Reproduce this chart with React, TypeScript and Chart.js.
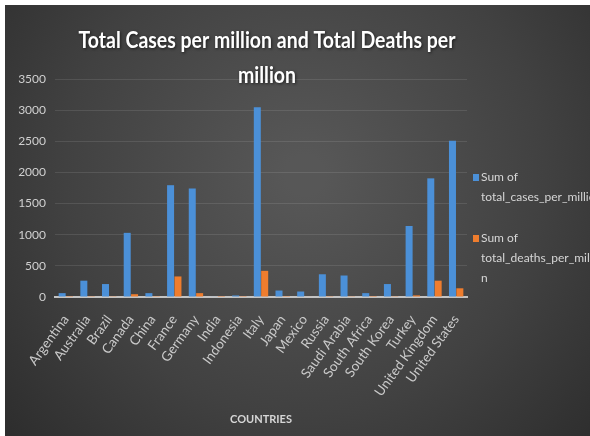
import { useEffect, useRef } from 'react';
import { Chart, registerables } from 'chart.js';

Chart.register(...registerables);

const countries = [
  'Argentina', 'Australia', 'Brazil', 'Canada', 'China', 'France', 'Germany', 'India', 'Indonesia',
  'Italy', 'Japan', 'Mexico', 'Russia', 'Saudi Arabia', 'South Africa', 'South Korea', 'Turkey',
  'United Kingdom', 'United States',
];

const totalCasesPerMillion = [62, 262, 208, 1030, 62, 1795, 1742, 7, 25, 3045, 104, 88, 365, 345, 62, 208, 1140, 1905, 2510];
const totalDeathsPerMillion = [2, 3, 12, 45, 3, 330, 62, 1, 2, 420, 2, 9, 3, 4, 1, 4, 26, 262, 140];

const yTicks = [0, 500, 1000, 1500, 2000, 2500, 3000, 3500];
const titleLines = ['Total Cases per million and Total Deaths per', 'million'];
const legendLines = [
  ['Sum of', 'total_cases_per_million'],
  ['Sum of', 'total_deaths_per_millio', 'n'],
];
const xAxisTitle = 'COUNTRIES';

const FONT = 'Lato, "Open Sans", sans-serif';
const BLUE = '#4b90d8';
const ORANGE = '#ef7d2e';

export default function App() {
  const ref = useRef<HTMLCanvasElement | null>(null);

  useEffect(() => {
    document.body.style.margin = '0';
    const canvas = ref.current;
    if (!canvas) return;

    const bgPlugin = {
      id: 'bg',
      beforeDraw(chart: any) {
        const { ctx, width, height } = chart;
        ctx.save();
        const g = ctx.createRadialGradient(300, 170, 20, 300, 170, 420);
        g.addColorStop(0, '#575757');
        g.addColorStop(0.55, '#414141');
        g.addColorStop(1, '#2a2a2a');
        ctx.fillStyle = g;
        ctx.fillRect(0, 0, width, height);
        ctx.restore();
      },
    };

    const overlayPlugin = {
      id: 'overlay',
      afterDraw(chart: any) {
        const { ctx } = chart;
        ctx.save();
        // title
        ctx.fillStyle = '#ffffff';
        ctx.textAlign = 'center';
        ctx.textBaseline = 'middle';
        ctx.font = `bold 23px ${FONT}`;
        ctx.shadowColor = 'rgba(0,0,0,0.6)';
        ctx.shadowBlur = 3;
        ctx.shadowOffsetX = 1;
        ctx.shadowOffsetY = 1;
        const cx = 262;
        const w0 = ctx.measureText(titleLines[0]).width;
        const sx = Math.min(1, 377 / w0);
        titleLines.forEach((line, i) => {
          ctx.save();
          ctx.translate(cx, 36 + i * 35);
          ctx.scale(sx, 1);
          ctx.fillText(line, 0, 0);
          ctx.restore();
        });
        ctx.shadowColor = 'transparent';
        // legend
        const colors = [BLUE, ORANGE];
        const starts = [172, 233];
        ctx.textAlign = 'left';
        ctx.font = `12px ${FONT}`;
        legendLines.forEach((lines, i) => {
          const y0 = starts[i];
          ctx.fillStyle = colors[i];
          ctx.fillRect(468, y0 - 3, 6, 7);
          ctx.fillStyle = '#d6d6d6';
          lines.forEach((t, j) => ctx.fillText(t, 476, y0 + j * 20));
        });
        ctx.restore();
      },
    };

    const chart = new Chart(canvas, {
      type: 'bar',
      data: {
        labels: countries,
        datasets: [
          {
            label: 'Sum of total_cases_per_million',
            data: totalCasesPerMillion,
            backgroundColor: BLUE,
            barPercentage: 0.95,
            categoryPercentage: 0.68,
          },
          {
            label: 'Sum of total_deaths_per_million',
            data: totalDeathsPerMillion,
            backgroundColor: ORANGE,
            barPercentage: 0.95,
            categoryPercentage: 0.68,
          },
        ],
      },
      options: {
        responsive: false,
        animation: false,
        devicePixelRatio: 1,
        layout: { padding: { top: 74, left: 5, right: 123, bottom: 4 } },
        plugins: {
          legend: { display: false },
          title: { display: false },
          tooltip: { enabled: false },
        },
        scales: {
          x: {
            grid: { display: false },
            border: { display: true, color: '#c4c4c4', width: 2 },
            ticks: {
              color: '#c9c9c9',
              font: { family: FONT, size: 13.5 },
              minRotation: 54,
              maxRotation: 54,
              autoSkip: false,
              padding: 7,
            },
            title: {
              display: true,
              text: xAxisTitle,
              color: '#d6d6d6',
              font: { family: FONT, size: 11, weight: 'bold' },
              padding: { top: 0, bottom: 6 },
            },
            afterFit(scale: any) {
              scale.height = 135;
            },
          },
          y: {
            min: 0,
            max: 3500,
            afterBuildTicks(scale: any) {
              scale.ticks = yTicks.map((v) => ({ value: v }));
            },
            grid: {
              color: 'rgba(255,255,255,0.10)',
              lineWidth: 1,
              drawTicks: false,
            },
            border: { display: false },
            ticks: {
              color: '#d0d0d0',
              font: { family: FONT, size: 12 },
              padding: 9,
              callback: (v: any) => String(v),
            },
            afterFit(scale: any) {
              scale.width = 45;
            },
          },
        },
      },
      plugins: [bgPlugin, overlayPlugin],
    } as any);

    return () => chart.destroy();
  }, []);

  return (
    <div style={{ position: 'relative', width: 590, height: 436, background: '#ffffff', overflow: 'hidden' }}>
      <canvas
        ref={ref}
        width={585}
        height={431}
        style={{ position: 'absolute', left: 5, top: 5, width: 585, height: 431 }}
      />
    </div>
  );
}
